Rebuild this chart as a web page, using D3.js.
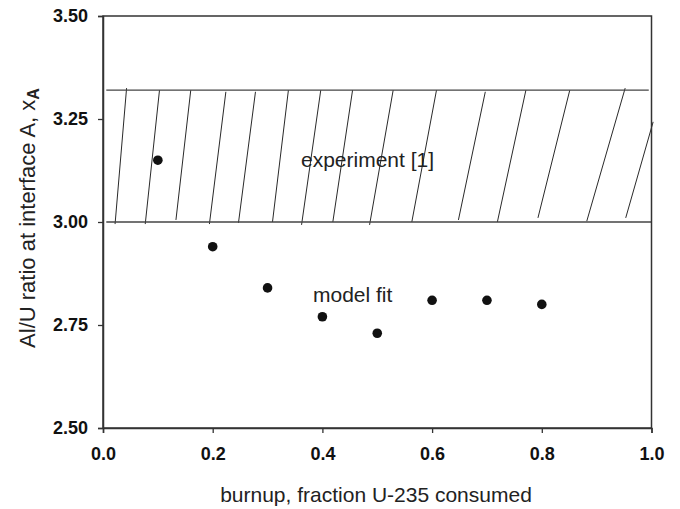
<!DOCTYPE html>
<html>
<head>
<meta charset="utf-8">
<script src="https://cdn.jsdelivr.net/npm/d3@7"></script>
<style>
  body { margin: 0; background: #fff; }
  text { font-family: Arial, "Liberation Sans", sans-serif; }
</style>
</head>
<body>
<script>
// model fit points
var burnup = [0.1, 0.2, 0.3, 0.4, 0.5, 0.6, 0.7, 0.8];
var modelFit = [3.15, 2.94, 2.84, 2.77, 2.73, 2.81, 2.81, 2.80];

var xTicks = [0, 0.2, 0.4, 0.6, 0.8, 1.0];
var yTicks = [2.5, 2.75, 3.0, 3.25, 3.5];

// experiment band
var bandLow = 3.00;
var bandHigh = 3.32;
var bandStart = [0.006, 0.006];
var bandEnd = [0.995, 1.0];

// hatch lines, bottom end -> top end
var hatchX0 = [0.022, 0.077, 0.133, 0.194, 0.247, 0.309, 0.362, 0.419, 0.486, 0.563, 0.648, 0.719, 0.793, 0.882, 0.953];
var hatchY0 = [2.995, 2.995, 3.005, 2.995, 2.998, 3.0, 2.993, 3.0, 2.993, 3.0, 3.005, 3.0, 3.01, 3.002, 3.01];
var hatchX1 = [0.043, 0.103, 0.160, 0.224, 0.278, 0.338, 0.397, 0.455, 0.529, 0.608, 0.697, 0.771, 0.851, 0.952, 1.003];
var hatchY1 = [3.325, 3.32, 3.32, 3.316, 3.316, 3.32, 3.32, 3.32, 3.32, 3.32, 3.316, 3.32, 3.32, 3.325, 3.243];

var svg = d3.select('body').append('svg')
    .attr('width', 680)
    .attr('height', 509);

var x = d3.scaleLinear().domain([0, 1]).range([103, 651.5]);
var y = d3.scaleLinear().domain([2.5, 3.5]).range([428, 16]);

// hatching
svg.append('g').selectAll('line')
    .data(hatchX0)
    .enter().append('line')
    .attr('x1', function(d) { return x(d); })
    .attr('y1', function(d, i) { return y(hatchY0[i]); })
    .attr('x2', function(d, i) { return x(hatchX1[i]); })
    .attr('y2', function(d, i) { return y(hatchY1[i]); })
    .attr('stroke', '#111')
    .attr('stroke-width', 0.9);

// band borders
var bandVals = [bandHigh, bandLow];
svg.append('g').selectAll('line')
    .data(bandVals)
    .enter().append('line')
    .attr('x1', function(d, i) { return x(bandStart[i]); })
    .attr('x2', function(d, i) { return x(bandEnd[i]); })
    .attr('y1', function(d) { return y(d); })
    .attr('y2', function(d) { return y(d); })
    .attr('stroke', '#444')
    .attr('stroke-width', 1.3);

// frame
svg.append('rect')
    .attr('x', x(0))
    .attr('y', y(3.5))
    .attr('width', x(1) - x(0))
    .attr('height', y(2.5) - y(3.5))
    .attr('fill', 'none')
    .attr('stroke', '#333')
    .attr('stroke-width', 1.5);

var xAxis = svg.append('g')
    .attr('transform', 'translate(0,' + y(2.5) + ')')
    .call(d3.axisBottom(x).tickValues(xTicks).tickSize(5).tickPadding(14)
        .tickFormat(d3.format('.1f')));

var yAxis = svg.append('g')
    .attr('transform', 'translate(' + x(0) + ',0)')
    .call(d3.axisLeft(y).tickValues(yTicks).tickSize(5).tickPadding(10)
        .tickFormat(d3.format('.2f')));

[xAxis, yAxis].forEach(function(a) {
    a.select('.domain').attr('stroke', '#333').attr('stroke-width', 1.5);
    a.selectAll('.tick line').attr('stroke', '#333').attr('stroke-width', 1.3);
    a.selectAll('.tick text')
        .attr('fill', '#111')
        .style('font-size', '18px')
        .style('font-weight', 'bold')
        .style('font-family', 'Arial, "Liberation Sans", sans-serif');
});

// points
svg.append('g').selectAll('circle')
    .data(burnup)
    .enter().append('circle')
    .attr('cx', function(d) { return x(d); })
    .attr('cy', function(d, i) { return y(modelFit[i]); })
    .attr('r', 4.8)
    .attr('fill', '#111');

// labels
svg.append('text')
    .attr('x', 301)
    .attr('y', 167)
    .style('font-size', '21px')
    .attr('fill', '#222')
    .text('experiment [1]');

svg.append('text')
    .attr('x', 313)
    .attr('y', 302)
    .style('font-size', '21px')
    .attr('fill', '#222')
    .text('model fit');

svg.append('text')
    .attr('x', 376)
    .attr('y', 502)
    .attr('text-anchor', 'middle')
    .style('font-size', '21px')
    .attr('fill', '#222')
    .text('burnup, fraction U-235 consumed');

var yt = svg.append('text')
    .attr('transform', 'translate(35,218) rotate(-90)')
    .attr('text-anchor', 'middle')
    .style('font-size', '22px')
    .attr('fill', '#222');
yt.append('tspan').text('Al/U ratio at interface A, x');
yt.append('tspan')
    .attr('dy', 4)
    .style('font-size', '16px')
    .style('font-weight', 'bold')
    .text('A');
</script>
</body>
</html>
